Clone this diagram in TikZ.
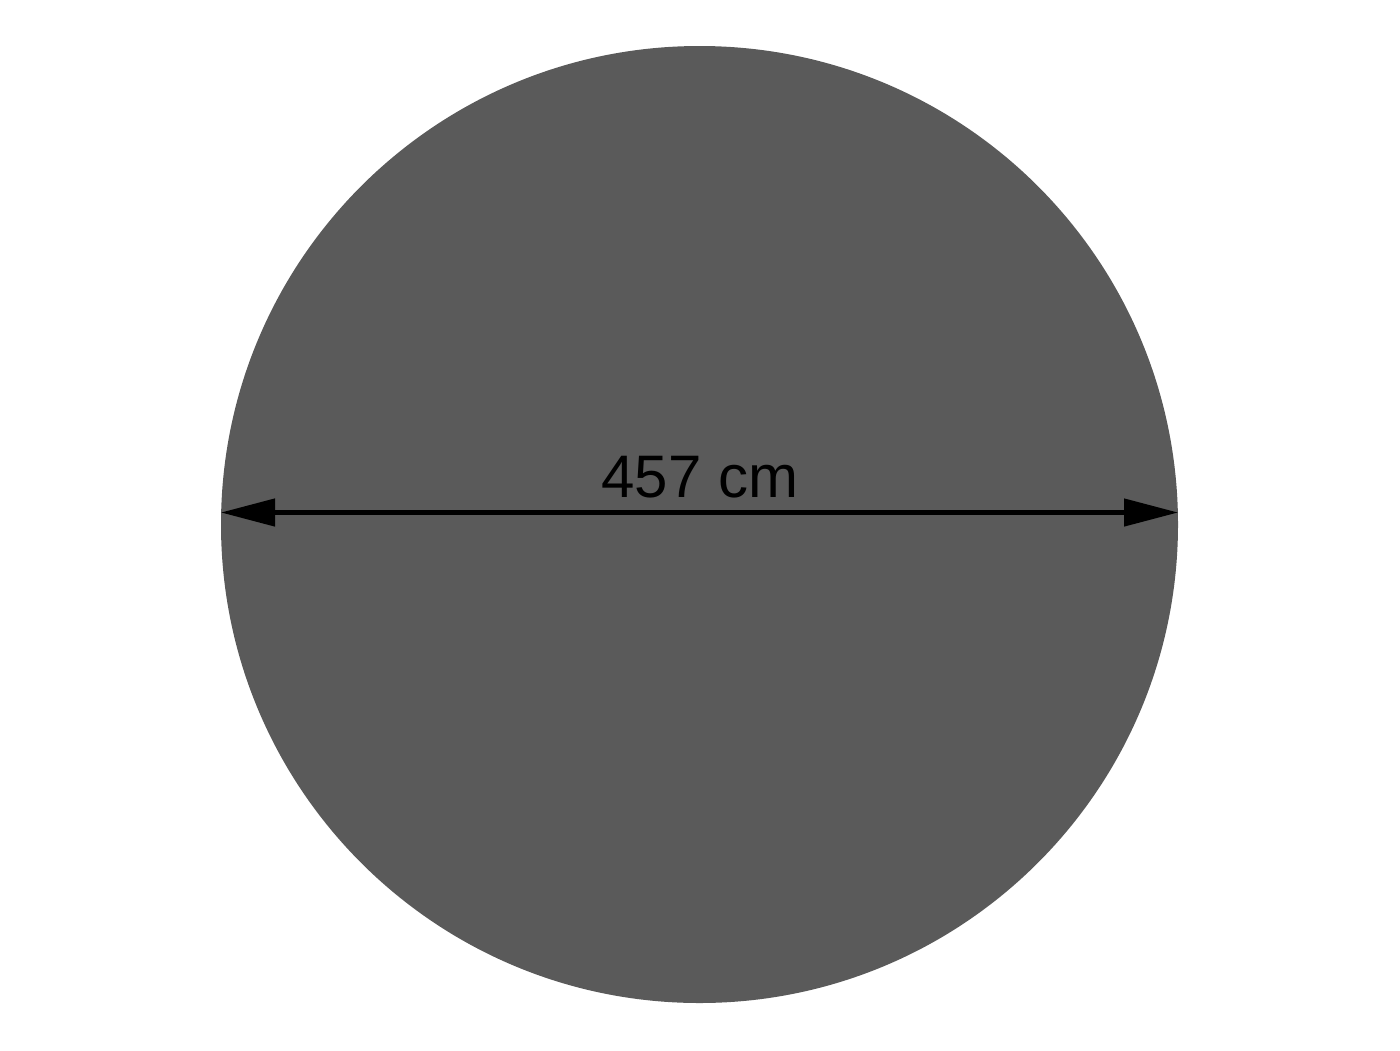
\documentclass[tikz,border=0pt]{standalone}
\usepackage{fontspec}
\setmainfont{Liberation Sans}
\usetikzlibrary{arrows.meta}
\definecolor{discgray}{HTML}{5A5A5A}
\tikzset{
  disc/.style={circle, fill=discgray, draw=none, minimum size=957pt, inner sep=0pt},
  dimline/.style={line width=4.5pt, black, {Triangle[length=54pt,width=27pt]}-{Triangle[length=54pt,width=27pt]}},
  dimlabel/.style={font=\fontsize{60}{62}\selectfont, text=black, anchor=base, inner sep=0pt}
}
\begin{document}
\begin{tikzpicture}[x=1pt,y=-1pt]
\useasboundingbox (0,0) rectangle (1400,1050);
\node[disc] (disc) at (699.5,524.5) {};
\coordinate (L) at (221,512.5);
\coordinate (R) at (1178,512.5);
\draw[dimline] (L) -- (R);
\node[dimlabel] (lbl) at (700,497) {457 cm};
\end{tikzpicture}
\end{document}
